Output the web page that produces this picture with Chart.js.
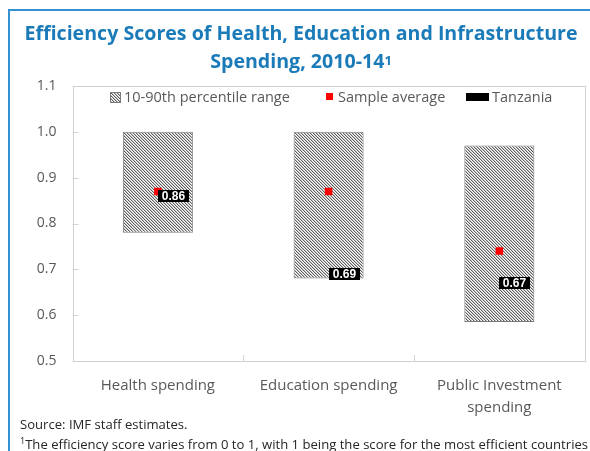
<!DOCTYPE html>
<html>
<head>
<meta charset="utf-8">
<script src="https://cdn.jsdelivr.net/npm/chart.js@4/dist/chart.umd.min.js"></script>
<style>
html,body{margin:0;padding:0;background:#fff;}
#wrap{position:relative;width:590px;height:451px;overflow:hidden;font-family:"Open Sans",sans-serif;}
#chart{position:absolute;left:0;top:0;}
.frameTop{position:absolute;left:8px;top:9px;width:600px;height:2px;background:#3590d2;}
.frameLeft{position:absolute;left:8px;top:9px;width:2px;height:460px;background:#3590d2;}
#title{position:absolute;left:6px;top:19px;width:590px;text-align:center;color:#1b7bb8;font-weight:700;font-size:19.6px;line-height:28px;white-space:nowrap;}
#title sup{font-size:13px;vertical-align:top;position:relative;top:-1px;}
#legend{position:absolute;left:0;top:88px;height:18px;width:590px;font-size:14.5px;color:#595959;}
.li{position:absolute;top:0;height:18px;line-height:18px;white-space:nowrap;}
.sw{position:absolute;}
#source{position:absolute;left:20px;top:415px;font-size:13.1px;color:#262626;white-space:nowrap;}
#note{position:absolute;left:20px;top:435px;font-size:13.1px;color:#262626;white-space:nowrap;}
#note sup{font-size:9px;vertical-align:top;position:relative;top:-1px;}
</style>
</head>
<body>
<div id="wrap">
  <canvas id="chart" width="590" height="451"></canvas>
  <div class="frameTop"></div>
  <div class="frameLeft"></div>
  <div id="title">Efficiency Scores of Health, Education and Infrastructure<br>Spending, 2010-14<sup>1</sup></div>
  <div id="legend"></div>
  <div id="source">Source: IMF staff estimates.</div>
  <div id="note"><sup>1</sup>The efficiency score varies from 0 to 1, with 1 being the score for the most efficient countries</div>
</div>
<script>
// ---- data ----
const categories = ['Health spending', 'Education spending', ['Public Investment', 'spending']];
const p10 = [0.78, 0.68, 0.585];
const p90 = [1.00, 1.00, 0.97];
const sampleAverage = [0.87, 0.87, 0.74];
const tanzania = [0.86, 0.69, 0.67];
const yTicks = [0.5, 0.6, 0.7, 0.8, 0.9, 1.0, 1.1];
const seriesNames = ['10-90th percentile range', 'Sample average', 'Tanzania'];

// fine hatch pattern
function makePattern() {
  const c = document.createElement('canvas');
  c.width = 3; c.height = 3;
  const g = c.getContext('2d');
  g.fillStyle = '#ffffff'; g.fillRect(0, 0, 3, 3);
  for (let i = 0; i < 3; i++) {
    g.fillStyle = '#5e5e5e'; g.fillRect(i, i, 1, 1);
    g.fillStyle = '#c4c4c4'; g.fillRect((i + 1) % 3, i, 1, 1);
  }
  return g.createPattern(c, 'repeat');
}
const ctx = document.getElementById('chart').getContext('2d');
const hatch = makePattern();

const frame = {
  id: 'frame',
  beforeDatasetsDraw(chart) {
    const a = chart.chartArea, g = chart.ctx;
    g.save();
    g.strokeStyle = '#d0d0d0'; g.lineWidth = 1;
    g.strokeRect(Math.round(a.left) + 0.5, Math.round(a.top) + 0.5, Math.round(a.right - a.left), Math.round(a.bottom - a.top));
    g.strokeStyle = '#d3d3d3';
    const y = chart.scales.y, x = chart.scales.x;
    g.beginPath();
    y.ticks.forEach(t => {
      const py = Math.round(y.getPixelForValue(t.value)) + 0.5;
      g.moveTo(a.left, py); g.lineTo(a.left + 6, py);
    });
    for (let i = 0; i < categories.length - 1; i++) {
      const px = Math.round((x.getPixelForValue(i) + x.getPixelForValue(i + 1)) / 2) + 0.5;
      g.moveTo(px, a.bottom); g.lineTo(px, a.bottom - 6);
    }
    g.stroke();
    g.restore();
  }
};

const tzLabels = {
  id: 'tzLabels',
  afterDatasetsDraw(chart) {
    const meta = chart.getDatasetMeta(2), g = chart.ctx;
    g.save();
    g.font = 'bold 12px Arial, "Liberation Sans", sans-serif';
    g.textAlign = 'center'; g.textBaseline = 'middle';
    meta.data.forEach((pt, i) => {
      const w = 31, h = 12;
      g.fillStyle = '#000';
      g.fillRect(Math.round(pt.x), Math.round(pt.y - h / 2), w, h);
      g.fillStyle = '#fff';
      g.fillText(tanzania[i].toFixed(2), Math.round(pt.x) + w / 2, Math.round(pt.y) + 1);
    });
    g.restore();
  }
};

const chart = new Chart(ctx, {
  type: 'bar',
  data: {
    labels: categories,
    datasets: [
      {
        label: seriesNames[0],
        data: p10.map((v, i) => [v, p90[i]]),
        backgroundColor: hatch,
        borderColor: '#7a7a7a',
        borderWidth: 1,
        borderSkipped: false,
        barPercentage: 0.41,
        categoryPercentage: 1,
        order: 3
      },
      {
        type: 'line',
        label: seriesNames[1],
        data: sampleAverage,
        showLine: false,
        pointStyle: 'rect',
        pointRadius: 5.3,
        pointBackgroundColor: '#ff0000',
        pointBorderWidth: 0,
        order: 2
      },
      {
        type: 'line',
        label: seriesNames[2],
        data: tanzania,
        showLine: false,
        pointRadius: 0,
        order: 1
      }
    ]
  },
  options: {
    responsive: false,
    animation: false,
    devicePixelRatio: 1,
    layout: { padding: { left: 0, right: 3, top: 86, bottom: 0 } },
    plugins: { legend: { display: false }, tooltip: { enabled: false }, title: { display: false } },
    scales: {
      x: {
        grid: { display: false, drawTicks: false },
        border: { display: false },
        ticks: { font: { family: 'Open Sans', size: 15, lineHeight: 1.47 }, color: '#595959', padding: 14, maxRotation: 0, autoSkip: false },
        afterFit(s) { s.height = 90; }
      },
      y: {
        min: 0.5, max: 1.1,
        afterBuildTicks(s) { s.ticks = yTicks.map(v => ({ value: v })); },
        grid: { display: false, drawTicks: false },
        border: { display: false },
        ticks: { callback: v => Number(v).toFixed(1), font: { family: 'Open Sans', size: 14 }, color: '#595959', padding: 16 },
        afterFit(s) { s.width = 72.5; }
      }
    }
  },
  plugins: [frame, tzLabels]
});

// HTML legend built from the datasets
const legendEl = document.getElementById('legend');
const legendX = [110, 326, 466];
chart.data.datasets.forEach((ds, i) => {
  const item = document.createElement('div');
  item.className = 'li';
  item.style.left = legendX[i] + 'px';
  const sw = document.createElement('span');
  sw.className = 'sw';
  let textLeft;
  if (i === 0) {
    sw.style.cssText = 'left:0;top:4px;width:9px;height:9px;border:1px solid #7a7a7a;';
    const c = document.createElement('canvas'); c.width = 9; c.height = 9;
    const g = c.getContext('2d'); g.fillStyle = makePattern(); g.fillRect(0, 0, 9, 9);
    sw.style.backgroundImage = 'url(' + c.toDataURL() + ')';
    textLeft = 14;
  } else if (i === 1) {
    sw.style.cssText = 'left:0;top:5px;width:7px;height:7px;background:#ff0000;';
    textLeft = 12;
  } else {
    sw.style.cssText = 'left:0;top:5px;width:23px;height:8px;background:#000;';
    textLeft = 26;
  }
  item.appendChild(sw);
  const t = document.createElement('span');
  t.style.cssText = 'position:absolute;left:' + textLeft + 'px;top:0;';
  t.textContent = ds.label;
  item.appendChild(t);
  legendEl.appendChild(item);
});
</script>
</body>
</html>
